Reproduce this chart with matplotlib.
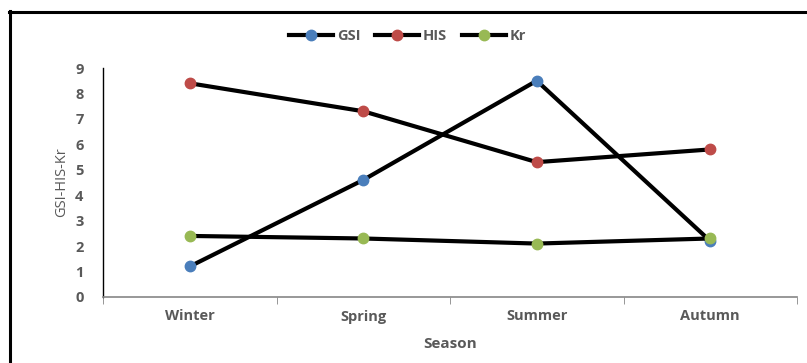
import matplotlib
matplotlib.use("Agg")
import matplotlib.pyplot as plt
from matplotlib.lines import Line2D

seasons = ["Winter", "Spring", "Summer", "Autumn"]
gsi = [1.2, 4.6, 8.5, 2.2]
his = [8.4, 7.3, 5.3, 5.8]
kr = [2.4, 2.3, 2.1, 2.3]

series = [("GSI", gsi, "#4a7ebb"), ("HIS", his, "#be4b48"), ("Kr", kr, "#98b954")]

TEXT = "#595959"
plt.rcParams["font.family"] = ["Open Sans", "DejaVu Sans"]
plt.rcParams["font.weight"] = "bold"

fig = plt.figure(figsize=(8.07, 3.63), dpi=100)
ax = fig.add_axes([103 / 807, 1 - 297 / 363, 694 / 807, 229 / 363])

x = range(len(seasons))
for name, vals, col in series:
    ax.plot(x, vals, color="black", lw=3, marker="o", ms=7.5,
            mfc=col, mec=col, label=name, zorder=3)

ax.set_xlim(-0.5, 3.5)
ax.set_ylim(0, 9)
ax.set_yticks(range(10))
ax.set_xticks(x)
ax.set_xticklabels(seasons)
ax.set_xticks([-0.5, 0.5, 1.5, 2.5, 3.5], minor=True)
ax.tick_params(axis="x", which="major", length=0, pad=9, labelsize=10.5, labelcolor=TEXT)
ax.tick_params(axis="x", which="minor", length=5, direction="out", color="#868686")
ax.tick_params(axis="y", length=0, pad=14, labelsize=10.5, labelcolor=TEXT)

for s in ("top", "right"):
    ax.spines[s].set_visible(False)
ax.spines["left"].set_color("black")
ax.spines["left"].set_linewidth(1)
ax.spines["bottom"].set_color("#868686")
ax.spines["bottom"].set_linewidth(1.2)

ax.set_xlabel("Season", fontsize=11, color=TEXT, fontweight="bold", labelpad=10)
ax.set_ylabel("GSI-HIS-Kr", fontsize=10.5, color=TEXT, fontweight="normal", labelpad=4)

leg = fig.legend(loc="center", bbox_to_anchor=(0.505, 1 - 36 / 363), ncol=3,
                 frameon=False, fontsize=10.5, handlelength=3, columnspacing=1.0,
                 handletextpad=0.3)
for t in leg.get_texts():
    t.set_color(TEXT)

# outer frame (left and top edges)
fig.add_artist(Line2D([10 / 807, 10 / 807], [0, 1 - 11 / 363], color="black", lw=2.2,
                      transform=fig.transFigure))
fig.add_artist(Line2D([9 / 807, 1], [1 - 12 / 363, 1 - 12 / 363], color="black", lw=2.2,
                      transform=fig.transFigure))

fig.savefig("out.png", dpi=100)
